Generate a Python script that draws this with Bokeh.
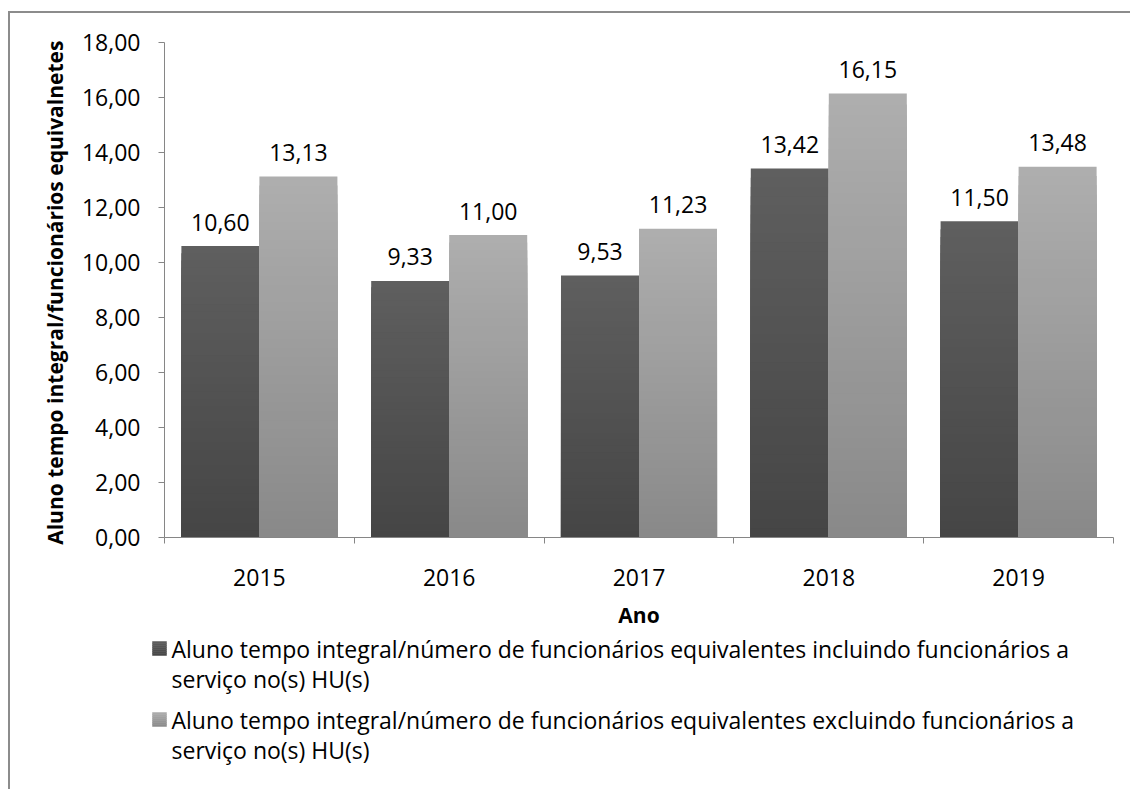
import numpy as np
from bokeh.plotting import figure
from bokeh.layouts import column
from bokeh.models import ColumnDataSource, FixedTicker, CustomJSTickFormatter, Range1d
from bokeh.core.properties import value
from bokeh.embed import file_html
from bokeh.resources import INLINE

# ---------------- data ----------------
years = ["2015", "2016", "2017", "2018", "2019"]
incl = [10.60, 9.33, 9.53, 13.42, 11.50]
excl = [13.13, 11.00, 11.23, 16.15, 13.48]
series_labels = [
    "Aluno tempo integral/número de funcionários equivalentes incluindo funcionários a\nserviço no(s) HU(s)",
    "Aluno tempo integral/número de funcionários equivalentes excluindo funcionários a\nserviço no(s) HU(s)",
]
y_ticks = [0, 2, 4, 6, 8, 10, 12, 14, 16, 18]
x_title = "Ano"
y_title = "Aluno tempo integral/funcionários  equivalnetes"

FONT = "Open Sans"
FS = "23px"
AXIS_COLOR = "#868686"
N = 40  # gradient steps per bar
BAR_W = 0.411
OFF = 0.2055

dark_top, dark_bot = (0x5f, 0x5f, 0x5f), (0x45, 0x45, 0x45)
light_top, light_bot = (0xae, 0xae, 0xae), (0x89, 0x89, 0x89)


def mix(top_rgb, bot_rgb, f):
    c = tuple(int(round(b + (t - b) * f)) for t, b in zip(top_rgb, bot_rgb))
    return "#%02x%02x%02x" % c


def gradient_source(vals, xs, top_rgb, bot_rgb):
    # nested bars from tallest (top colour) to shortest (bottom colour): no seams
    d = dict(x=[], top=[], color=[])
    for k in range(N - 1, -1, -1):
        for v, x in zip(vals, xs):
            d["x"].append(x)
            d["top"].append(v * (k + 1) / N)
            d["color"].append(mix(top_rgb, bot_rgb, (k + 0.5) / N))
    return ColumnDataSource(d)


centers = np.arange(len(years)) + 0.5
x_dark = centers - OFF
x_light = centers + OFF

W, H1, H2 = 1120, 619, 157
p = figure(width=W, height=H1, output_backend="svg", toolbar_location=None,
           x_range=Range1d(0, len(years)), y_range=Range1d(y_ticks[0], y_ticks[-1]),
           min_border_left=154, min_border_right=17, min_border_top=29, min_border_bottom=95)
p.frame_align = False
p.outline_line_color = None
p.xgrid.visible = False
p.ygrid.visible = False
p.background_fill_color = "white"
p.border_fill_color = "white"

src_d = gradient_source(incl, x_dark, dark_top, dark_bot)
src_l = gradient_source(excl, x_light, light_top, light_bot)
p.vbar(x="x", bottom=0, top="top", width=BAR_W, source=src_d,
       fill_color="color", line_color=None)
p.vbar(x="x", bottom=0, top="top", width=BAR_W, source=src_l,
       fill_color="color", line_color=None)

fmt = lambda v: ("%.2f" % v).replace(".", ",")
lab_src = ColumnDataSource(dict(
    x=list(x_dark) + list(x_light),
    y=incl + excl,
    t=[fmt(v) for v in incl] + [fmt(v) for v in excl]))
p.text(x="x", y="y", text="t", source=lab_src, text_align="center",
       text_baseline="alphabetic", y_offset=-24, text_font=value(FONT),
       text_font_size=FS, text_color="#000000")

# x axis
xa = p.xaxis[0]
xa.ticker = FixedTicker(ticks=list(centers), minor_ticks=list(range(len(years) + 1)))
xa.formatter = CustomJSTickFormatter(args=dict(labels=years),
                                     code="return labels[Math.floor(tick)];")
xa.major_tick_out = 0
xa.major_tick_in = 0
xa.minor_tick_out = 6
xa.minor_tick_in = 0
xa.minor_tick_line_color = AXIS_COLOR
xa.axis_line_color = AXIS_COLOR
xa.major_label_text_font = FONT
xa.major_label_text_font_size = FS
xa.major_label_text_color = "#000000"
xa.major_label_standoff = 25
xa.axis_label = x_title
xa.axis_label_text_font = FONT
xa.axis_label_text_font_size = "21px"
xa.axis_label_text_font_style = "bold"
xa.axis_label_text_color = "#000000"
xa.axis_label_standoff = 12

# y axis
ya = p.yaxis[0]
ya.ticker = FixedTicker(ticks=y_ticks, minor_ticks=[])
ya.formatter = CustomJSTickFormatter(code="return tick.toFixed(2).replace('.', ',');")
ya.major_tick_out = 6
ya.major_tick_in = 0
ya.major_tick_line_color = AXIS_COLOR
ya.axis_line_color = AXIS_COLOR
ya.major_label_text_font = FONT
ya.major_label_text_font_size = FS
ya.major_label_text_color = "#000000"
ya.major_label_standoff = 18
ya.axis_label = y_title
ya.axis_label_text_font = FONT
ya.axis_label_text_font_size = "21px"
ya.axis_label_text_font_style = "bold"
ya.axis_label_text_color = "#000000"
ya.axis_label_standoff = 10

# ---------------- legend (separate strip below, pixel coordinates) ----------------
q = figure(width=W, height=H2, output_backend="svg", toolbar_location=None,
           x_axis_location=None, y_axis_location=None,
           x_range=Range1d(0, W), y_range=Range1d(H2, 0),
           min_border_left=0, min_border_right=0, min_border_top=0, min_border_bottom=0)
q.frame_align = False
q.outline_line_color = None
q.xgrid.visible = False
q.ygrid.visible = False
q.background_fill_color = "white"
q.border_fill_color = "white"

LEG_X = 142        # left of swatch
LEG_Y0 = 16        # centre of first line
LINE_H = 30.5
ITEM_H = 71
SW = 14            # swatch size
GAP = 19           # swatch left -> text start
NS = 7
sw_cols = [(dark_top, dark_bot), (light_top, light_bot)]

sq = dict(left=[], right=[], top=[], bottom=[], color=[])
tx = dict(x=[], y=[], t=[])
for i, lab in enumerate(series_labels):
    yc = LEG_Y0 + i * ITEM_H
    tcol, bcol = sw_cols[i]
    for k in range(NS):
        sq["left"].append(LEG_X)
        sq["right"].append(LEG_X + SW)
        sq["top"].append(yc - SW / 2 + k * SW / NS)
        sq["bottom"].append(yc - SW / 2 + (k + 1) * SW / NS)
        sq["color"].append(mix(tcol, bcol, 1 - (k + 0.5) / NS))
    for j, line in enumerate(lab.split("\n")):
        tx["x"].append(LEG_X + GAP)
        tx["y"].append(yc + j * LINE_H)
        tx["t"].append(line)

q.quad(left="left", right="right", top="top", bottom="bottom", source=ColumnDataSource(sq),
       fill_color="color", line_color="color", line_width=0.5)
q.text(x="x", y="y", text="t", source=ColumnDataSource(tx), text_align="left",
       text_baseline="middle", text_font=value(FONT), text_font_size=FS,
       text_color="#000000")

layout = column(p, q, spacing=0,
                styles={"border-left": "2px solid #8c8c8c", "border-top": "2px solid #8c8c8c",
                        "margin-top": "11px", "margin-left": "8px"})

open("out.html", "w").write(file_html(layout, INLINE))
